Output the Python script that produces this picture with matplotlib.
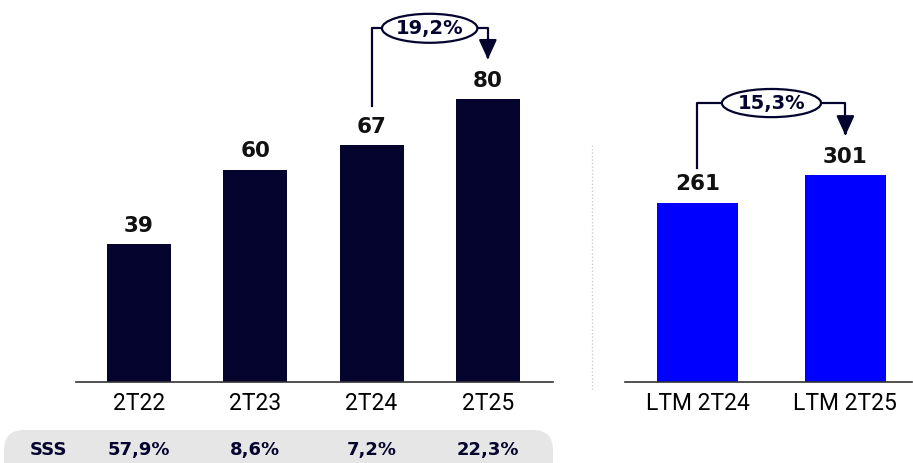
import matplotlib.pyplot as plt
from matplotlib.patches import Ellipse, FancyBboxPatch
from matplotlib.lines import Line2D

# data
quarters = ['2T22', '2T23', '2T24', '2T25']
quarter_vals = [39, 60, 67, 80]
ltm_labels = ['LTM 2T24', 'LTM 2T25']
ltm_vals = [261, 301]
sss_vals = ['57,9%', '8,6%', '7,2%', '22,3%']
growth_q = '19,2%'
growth_ltm = '15,3%'

navy = '#04042e'
blue = '#0000ff'
W, H = 913, 463
bold_font = dict(fontfamily='DejaVu Sans', fontweight='bold')

fig = plt.figure(figsize=(W / 100, H / 100), dpi=100)

# overlay in pixel units for the decorations (pill, separator)
bg = fig.add_axes([0, 0, 1, 1])
bg.set_xlim(0, W)
bg.set_ylim(H, 0)
bg.axis('off')
bg.add_patch(FancyBboxPatch((4, 430), 549, 50,
                            boxstyle='round,pad=0,rounding_size=20',
                            facecolor='#e6e6e6', edgecolor='none'))
bg.plot([592, 592], [145, 390], color='#cccccc', lw=1, ls=(0, (1, 1.5)))


def px_axes(x0, x1, ybase):
    return fig.add_axes([x0 / W, (H - ybase) / H, (x1 - x0) / W, ybase / H])


def style(ax):
    ax.patch.set_visible(False)
    for s in ['top', 'right', 'left']:
        ax.spines[s].set_visible(False)
    ax.spines['bottom'].set_color('#333333')
    ax.spines['bottom'].set_linewidth(1.2)
    ax.set_yticks([])
    ax.tick_params(axis='x', length=0, pad=7, labelsize=16.5)
    for t in ax.get_xticklabels():
        t.set_fontfamily('Roboto')
        t.set_color('#000000')


def bar_labels(ax, xs, vals):
    for x, v in zip(xs, vals):
        ax.annotate(str(v), (x, v), xytext=(0, 6), textcoords='offset points',
                    ha='center', va='bottom', fontsize=15.5, color='#111111',
                    **bold_font)


def growth_arrow(ax, x0, y0, x1, y1, ylev, text, ew, eh):
    xm = (x0 + x1) / 2
    ax.add_line(Line2D([x0, x0, xm - ew / 2], [y0, ylev, ylev], color=navy,
                       lw=1.6, clip_on=False))
    ax.add_line(Line2D([xm + ew / 2, x1, x1], [ylev, ylev, y1], color=navy,
                       lw=1.6, clip_on=False))
    ax.annotate('', xy=(x1, y1 - 0.1 * (ylev - y1)), xytext=(x1, y1 + 0.01),
                arrowprops=dict(arrowstyle='-|>,head_length=1.2,head_width=0.55',
                                color=navy, lw=1.6, shrinkA=0, shrinkB=0),
                annotation_clip=False)
    ax.add_patch(Ellipse((xm, ylev), ew, eh, facecolor='white', edgecolor=navy,
                         lw=1.6, clip_on=False, zorder=5))
    ax.text(xm, ylev, text, ha='center', va='center', fontsize=14,
            color=navy, zorder=6, **bold_font)


# left panel
ax1 = px_axes(76, 553, 382)
x1 = list(range(len(quarters)))
ax1.bar(x1, quarter_vals, width=0.55, color=navy)
ax1.set_xlim(-0.54, 3.56)
ax1.set_ylim(0, 108)
ax1.set_xticks(x1)
ax1.set_xticklabels(quarters)
style(ax1)
bar_labels(ax1, x1, quarter_vals)
growth_arrow(ax1, 2, quarter_vals[2] + 11, 3, quarter_vals[3] + 12, 100,
             growth_q, 0.82, 8.2)

# right panel
ax2 = px_axes(625, 912, 382)
x2 = list(range(len(ltm_labels)))
ax2.bar(x2, ltm_vals, width=0.55, color=blue)
ax2.set_xlim(-0.49, 1.45)
ax2.set_ylim(0, 556)
ax2.set_xticks(x2)
ax2.set_xticklabels(ltm_labels)
style(ax2)
bar_labels(ax2, x2, ltm_vals)
growth_arrow(ax2, 0, ltm_vals[0] + 50, 1, ltm_vals[1] + 62, 406,
             growth_ltm, 0.67, 41)

# SSS row
fig.text(48 / W, (H - 450) / H, 'SSS', ha='center', va='center',
         fontsize=13, color=navy, **bold_font)
for x, s in zip(x1, sss_vals):
    xd = ax1.transData.transform((x, 0))[0]
    fig.text(xd / W, (H - 450) / H, s, ha='center', va='center',
             fontsize=13, color=navy, **bold_font)

fig.savefig('out.png', dpi=100)
